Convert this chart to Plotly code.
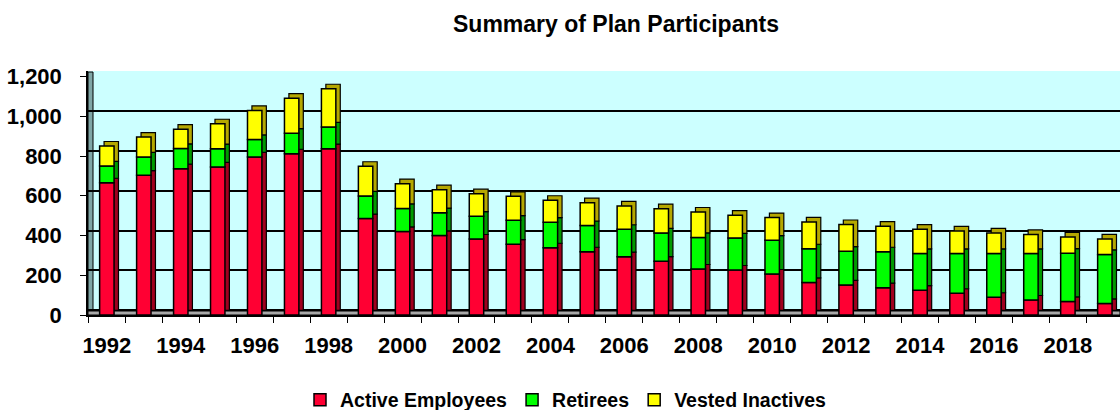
import plotly.graph_objects as go

years = list(range(1992, 2020))
active = [665, 703, 736, 745, 795, 811, 837, 485, 420, 400, 382, 356, 338, 318, 293,
          271, 231, 226, 206, 164, 151, 137, 125, 109, 89, 75, 68, 58]
retirees = [85, 92, 102, 92, 88, 104, 109, 114, 116, 115, 115, 121, 129, 132, 138,
            142, 159, 162, 170, 169, 170, 181, 185, 201, 221, 235, 243, 247]
vested = [100, 100, 97, 125, 146, 176, 192, 149, 125, 115, 113, 120, 110, 115, 118,
          122, 128, 114, 114, 135, 134, 129, 122, 113, 103, 95, 82, 78]
tick_years = list(range(1992, 2019, 2))
y_ticks = [0, 200, 400, 600, 800, 1000, 1200]

series = [
    ("Active Employees", active, "#FF0033", "#A0001E"),
    ("Retirees", retirees, "#00FF00", "#009A00"),
    ("Vested Inactives", vested, "#FFFF00", "#B5A800"),
]

DEPTH_Y = 23      # 3-D depth illusion (value units)
DEPTH_X = 0.12    # 3-D depth illusion (category units)
BW = 0.39

fig = go.Figure()

bases = []
cum = [0] * len(years)
for _, vals, _, _ in series:
    bases.append(list(cum))
    cum = [c + v for c, v in zip(cum, vals)]

# side/top faces
for (name, vals, front, side), base in zip(series, bases):
    fig.add_trace(go.Bar(
        x=years, y=vals, base=[b + DEPTH_Y for b in base],
        width=BW, offset=-BW / 2 + DEPTH_X,
        marker=dict(color=side, line=dict(color="black", width=1.2)),
        showlegend=False, hoverinfo="skip", yaxis="y",
    ))

# front faces
for (name, vals, front, side), base in zip(series, bases):
    fig.add_trace(go.Bar(
        x=years, y=vals, base=base, name=f"<b>{name}</b>",
        width=BW, offset=-BW / 2,
        marker=dict(color=front, line=dict(color="black", width=1.5)),
        yaxis="y",
    ))

fig.add_trace(go.Scatter(x=[years[0]], y=[0], yaxis="y2", mode="markers",
                         marker=dict(opacity=0), showlegend=False, hoverinfo="skip"))

font_family = "Liberation Sans, Arial, sans-serif"

fig.update_layout(
    width=1120, height=410, autosize=False,
    margin=dict(l=88, r=0, t=71, b=95),
    paper_bgcolor="white", plot_bgcolor="#CCFFFF",
    barmode="overlay",
    font=dict(family=font_family, color="black"),
    title=dict(text="<b>Summary of Plan Participants</b>", x=616 / 1120, xref="container",
               xanchor="center", y=1 - 24 / 410, yref="container", yanchor="middle",
               font=dict(size=23, family=font_family, color="black")),
    xaxis=dict(
        range=[1991.49, 2019.41], tickvals=tick_years,
        ticktext=[f"<b>{y}</b>" for y in tick_years], ticks="",
        tickfont=dict(size=22), showgrid=False, zeroline=False,
        showline=True, linecolor="black", linewidth=2,
        ticklabelstandoff=10,
        minor=dict(tick0=1991.5, dtick=1, ticks="outside", ticklen=6,
                   tickcolor="black", tickwidth=1, showgrid=False),
    ),
    yaxis=dict(
        range=[0, 1227.7], tickvals=y_ticks,
        ticktext=[f"<b>{v:,}</b>" for v in y_ticks],
        tickfont=dict(size=22), showgrid=False, zeroline=False,
        ticks="outside", ticklen=6, tickcolor="black",
        showline=True, linecolor="black", linewidth=1.5,
        ticklabelstandoff=14,
    ),
    yaxis2=dict(
        range=[-25, 1202.7], overlaying="y", tickvals=y_ticks, showticklabels=False,
        showgrid=True, gridcolor="black", gridwidth=2, zeroline=False, ticks="",
    ),
    legend=dict(orientation="h", x=566 / 1120, xref="container", xanchor="center",
                y=10 / 410, yref="container", yanchor="middle",
                font=dict(size=19.5, family=font_family, color="black"),
                itemwidth=30, traceorder="normal"),
    shapes=[
        dict(type="rect", xref="paper", yref="paper", x0=0, x1=5 / 1032, y0=0, y1=1 - 1 / 244,
             fillcolor="#7FA6A6", line=dict(color="black", width=1), layer="below"),
        dict(type="rect", xref="paper", yref="paper", x0=0, x1=1, y0=0, y1=4 / 244,
             fillcolor="#A8A8A8", line=dict(color="black", width=1), layer="below"),
    ],
)

fig.write_html("out.html")
